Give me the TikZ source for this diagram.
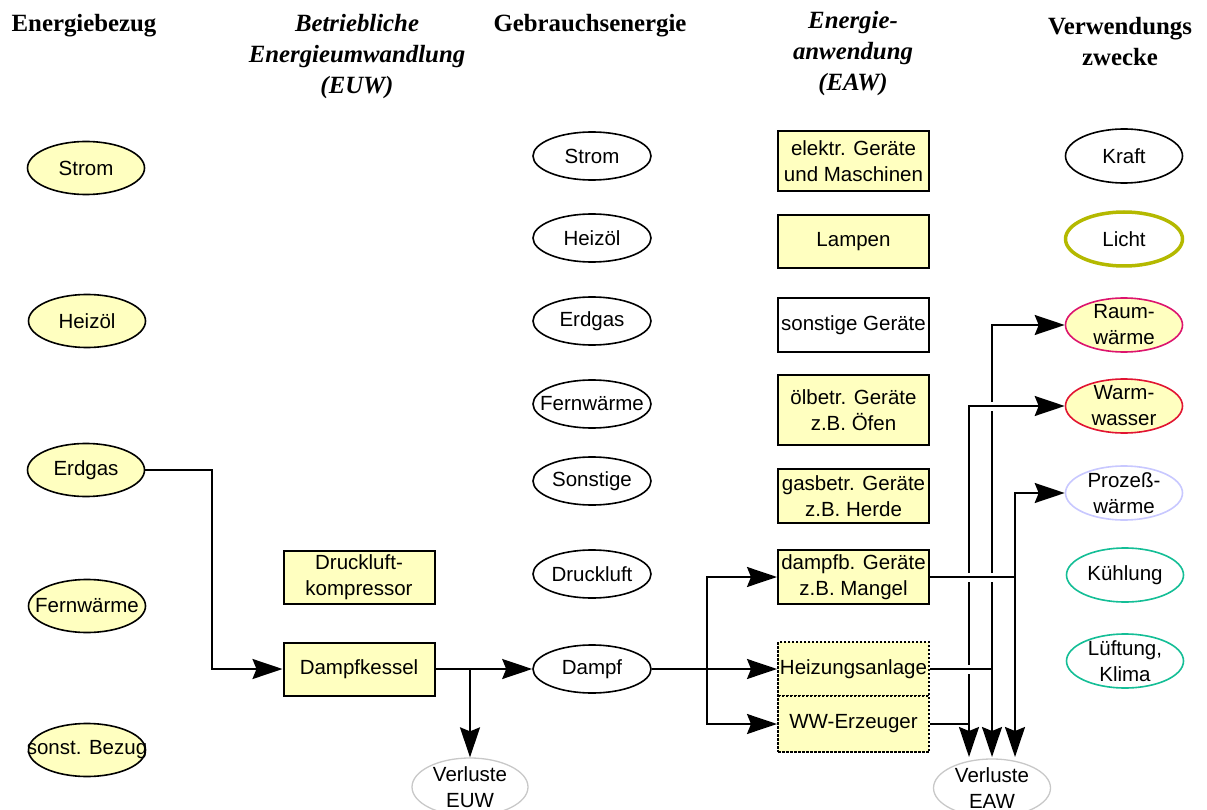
\documentclass[tikz,border=0pt]{standalone}
\usepackage{fontspec}
\setmainfont{Liberation Sans}
\newfontfamily\hdfont{Liberation Serif}
\usetikzlibrary{shapes.geometric,arrows.meta,calc}
\definecolor{ylw}{RGB}{255,255,192}
\definecolor{olv}{RGB}{180,185,0}
\definecolor{mag}{RGB}{220,20,110}
\definecolor{rdc}{RGB}{225,20,50}
\definecolor{lav}{RGB}{200,200,255}
\definecolor{tea}{RGB}{20,190,150}
\definecolor{grb}{RGB}{200,200,200}
\tikzset{
  >={Stealth[length=30pt,width=20pt,inset=4pt]},
  txt/.style={font=\fontsize{20.5}{26}\selectfont, align=center},
  hd/.style={font=\hdfont\bfseries\fontsize{24.8}{31}\selectfont, align=center},
  hdi/.style={font=\hdfont\bfseries\itshape\fontsize{24.8}{31}\selectfont, align=center},
  ellbase/.style={ellipse, draw=black, line width=1.6pt, fill=white, inner sep=0pt, minimum width=117pt, minimum height=50pt},
  tx/.style={label={[txt]center:#1}},
  eY/.style={ellbase, fill=ylw, minimum height=53pt},
  eW/.style={ellbase, minimum width=118pt, minimum height=48pt},
  eU/.style={ellbase, minimum width=117pt, minimum height=54pt},
  eL/.style={ellbase, draw=grb, line width=1.3pt, minimum width=116pt, minimum height=58pt},
  box/.style={rectangle, draw=black, line width=2pt, fill=ylw, inner sep=0pt, minimum width=151pt, txt},
  dbox/.style={box, dash pattern=on 2.5pt off 1.5pt},
  conn/.style={line width=2pt, draw=black},
  gapw/.style={fill=white, inner sep=0pt, minimum width=5pt, minimum height=9pt},
}
\begin{document}
\begin{tikzpicture}[x=1pt,y=-1pt]
\useasboundingbox (0,0) rectangle (1207,810);
\clip (0,0) rectangle (1207,810);

% headers
\node[hd]  (h1) at (84,26) {Energiebezug};
\node[hdi] (h2) at (357,57) {Betriebliche\\Energieumwandlung\\(EUW)};
\node[hd]  (h3) at (590,26) {Gebrauchsenergie};
\node[hdi] (h4) at (853,53.5) {Energie-\\anwendung\\(EAW)};
\node[hd]  (h5) at (1120,41.5) {Verwendungs\\zwecke};

% column 1
\node[eY, tx=Strom] (b1) at (86,168) {};
\node[eY, tx=Heizöl] (b2) at (87,321) {};
\node[eY, tx=Erdgas] (b3) at (86,470) {};
\node[eY, tx=Fernwärme] (b4) at (87,606) {};
\node[eY, tx=sonst. Bezug] (b5) at (87,750) {};

% column 2
\node[box, minimum height=53pt] (k1) at (359,577.5) {Druckluft-\\kompressor};
\node[box, minimum height=53pt] (k2) at (359,669) {Dampfkessel};

% column 3
\node[eW, tx=Strom] (g1) at (592,156) {};
\node[eW, tx=Heizöl] (g2) at (592,238) {};
\node[eW, tx=Erdgas] (g3) at (592,321) {};
\node[eW, tx=Fernwärme] (g4) at (592,404) {};
\node[eW, tx=Sonstige] (g5) at (592,481) {};
\node[eW, tx=Druckluft] (g6) at (592,574) {};
\node[eW, tx=Dampf] (g7) at (592,669) {};

% column 4
\node[box, minimum height=60pt] (a1) at (853.5,161) {elektr. Geräte\\und Maschinen};
\node[box, minimum height=53pt] (a2) at (853.5,241.5) {Lampen};
\node[box, fill=white, minimum height=54pt] (a3) at (853.5,325) {sonstige Geräte};
\node[box, minimum height=70pt] (a4) at (853.5,410) {ölbetr. Geräte\\z.B. Öfen};
\node[box, minimum height=54pt] (a5) at (853.5,496) {gasbetr. Geräte\\z.B. Herde};
\node[box, minimum height=54pt] (a6) at (853.5,577) {dampfb. Geräte\\z.B. Mangel};
\node[dbox, minimum height=54pt] (a7) at (853.5,669) {Heizungsanlage};
\node[dbox, minimum height=56pt] (a8) at (853.5,724) {WW-Erzeuger};

% column 5
\node[eU, tx=Kraft] (u1) at (1124,156) {};
\node[eU, draw=olv, line width=3.5pt, tx=Licht] (u2) at (1124,239) {};
\node[eU, draw=mag, fill=ylw, tx={Raum-\\wärme}] (u3) at (1124,325) {};
\node[eU, draw=rdc, fill=ylw, tx={Warm-\\wasser}] (u4) at (1124,406) {};
\node[eU, draw=lav, tx={Prozeß-\\wärme}] (u5) at (1124,493) {};
\node[eU, draw=tea, tx=Kühlung] (u6) at (1125,575) {};
\node[eU, draw=tea, tx={Lüftung,\\Klima}] (u7) at (1125,661) {};

% losses
\node[eL, tx={Verluste\\EUW}] (vEUW) at (470,787) {};
\node[eL, minimum width=117pt, tx={Verluste\\EAW}] (vEAW) at (992,788) {};

% helper coordinates
\coordinate (xE) at (212,0);
\coordinate (xF) at (470,0);
\coordinate (xD) at (707,0);
\coordinate (xA) at (969,0);
\coordinate (xB) at (992,0);
\coordinate (xC) at (1015,0);
\coordinate (eT) at (0,757);

% left connectors
\draw[conn,->] (b3.east) -- (b3.east -| xE) |- (k2.west);
\draw[conn,->] (k2.east) -- (g7.west);
\draw[conn,->] (k2.east -| xF) -- (vEUW.north);
\draw[conn,->] (g7.east) -- (a7.west);
\draw[conn,<->] (a6.west) -| (xD |- a8.west) -- (a8.west);

% right connectors
\draw[conn,<->] (xB |- eT) -- (u3.west -| xB) -- (u3.west);
\node[gapw] (gp1) at (u4.west -| xB) {};
\draw[conn,<->] (xA |- eT) -- (u4.west -| xA) -- (u4.west);
\draw[conn,<->] (xC |- eT) -- (u5.west -| xC) -- (u5.west);
\node[gapw] (gp2) at (a6.east -| xA) {};
\node[gapw] (gp3) at (a6.east -| xB) {};
\node[gapw] (gp4) at (a7.east -| xA) {};
\draw[conn] (a6.east) -- (a6.east -| xC);
\draw[conn] (a7.east) -- (a7.east -| xB);
\draw[conn] (a8.east) -- (a8.east -| xA);
\end{tikzpicture}
\end{document}
